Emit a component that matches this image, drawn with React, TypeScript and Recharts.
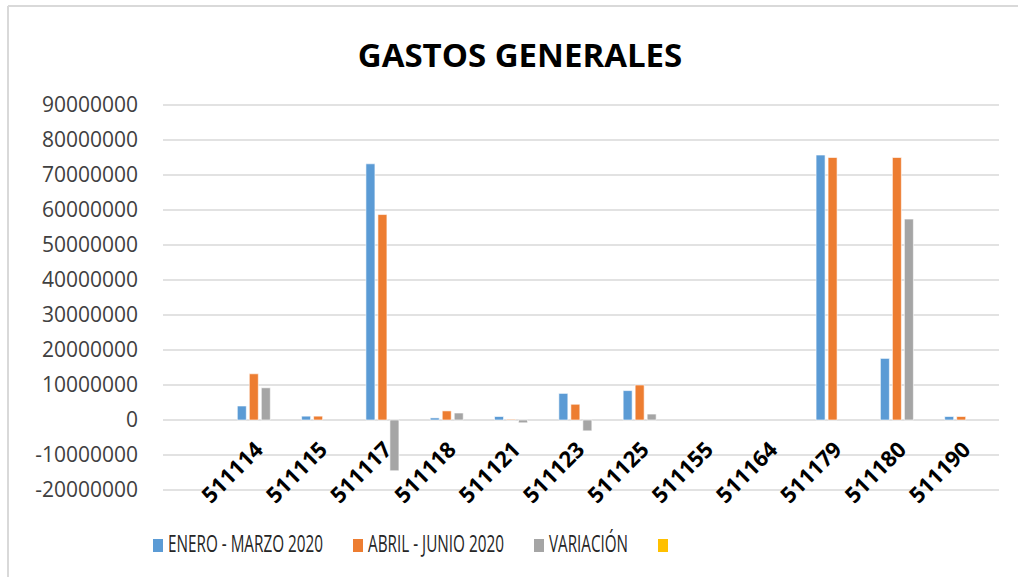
import React, { useLayoutEffect, useRef, useState } from "react";
import { BarChart, Bar, XAxis, YAxis, CartesianGrid, Legend } from "recharts";

const categories = ["", "511114", "511115", "511117", "511118", "511121", "511123", "511125", "511155", "511164", "511179", "511180", "511190"];
const eneroMarzo = [null, 4000000, 1100000, 73200000, 600000, 1000000, 7600000, 8400000, 0, 0, 75700000, 17600000, 1000000];
const abrilJunio = [null, 13200000, 1100000, 58700000, 2600000, 200000, 4500000, 10000000, 0, 0, 75000000, 75000000, 1000000];
const variacion = [null, 9200000, 0, -14500000, 2000000, -800000, -3100000, 1700000, 0, 0, 0, 57400000, 0];
const serieVacia = [null, null, null, null, null, null, null, null, null, null, null, null, null];
const yTicks = [-20000000, -10000000, 0, 10000000, 20000000, 30000000, 40000000, 50000000, 60000000, 70000000, 80000000, 90000000];
const seriesNames = ["ENERO - MARZO 2020", "ABRIL - JUNIO 2020", "VARIACIÓN", ""];
const seriesColors = ["#5B9BD5", "#ED7D31", "#A5A5A5", "#FFC000"];
const legendTextWidths = [155, 136, 79, 0];

const data = categories.map((c, i) => ({
  cat: c,
  s0: eneroMarzo[i],
  s1: abrilJunio[i],
  s2: variacion[i],
  s3: serieVacia[i],
}));

const W = 1018;
const H = 577;
const M = { top: 105, right: 19, left: 0, bottom: 47 };
const XH = 40;
const Y_MIN = yTicks[0];
const Y_MAX = yTicks[yTicks.length - 1];
const PLOT_H = H - M.top - M.bottom - XH;
const ZERO_FROM_BOTTOM = (0 - Y_MIN) / (Y_MAX - Y_MIN) * PLOT_H;

const FONT = "'Open Sans', sans-serif";

const CatTick = (props: any) => {
  const { x, y, payload } = props;
  const zy = y - ZERO_FROM_BOTTOM;
  return (
    <text
      x={x + 5}
      y={zy + 31}
      transform={`rotate(-45, ${x + 5}, ${zy + 31})`}
      textAnchor="end"
      fontFamily={FONT}
      fontWeight={700}
      fontSize={22}
      fill="#000"
    >
      {payload.value}
    </text>
  );
};

const FitText = ({ x, y, width, children }: any) => {
  const ref = useRef<SVGTextElement>(null);
  const [sx, setSx] = useState(0.7);
  useLayoutEffect(() => {
    if (ref.current) {
      const w = ref.current.getComputedTextLength();
      if (w > 0) setSx(width / w);
    }
  }, [width]);
  return (
    <text
      ref={ref}
      x={0}
      y={0}
      transform={`translate(${x}, ${y}) scale(${sx}, 1)`}
      fontFamily={FONT}
      fontSize={23}
      fill="#262626"
    >
      {children}
    </text>
  );
};

const LegendContent = () => {
  let cx = 153;
  const items: any[] = [];
  seriesNames.forEach((n, i) => {
    items.push(
      <g key={i}>
        <rect x={cx} y={539} width={10} height={13} fill={seriesColors[i]} />
        {n ? <FitText x={cx + 15} y={552} width={legendTextWidths[i]}>{n}</FitText> : null}
      </g>
    );
    cx += 15 + legendTextWidths[i] + 30;
  });
  return (
    <svg width={W} height={H} style={{ position: "absolute", left: 0, top: 0, overflow: "visible" }}>
      {items}
    </svg>
  );
};

export default function App() {
  return (
    <div style={{ position: "absolute", left: 0, top: 0, width: W, height: H, background: "#fff" }}>
      <BarChart width={W} height={H} data={data} margin={M} barSize={9} barGap={3}>
        <CartesianGrid vertical={false} stroke="#d9d9d9" strokeWidth={1.6} />
        <XAxis
          dataKey="cat"
          height={XH}
          axisLine={false}
          tickLine={false}
          tickSize={0}
          tickMargin={0}
          interval={0}
          tick={<CatTick />}
        />
        <YAxis
          width={163}
          domain={[Y_MIN, Y_MAX]}
          ticks={yTicks}
          interval={0}
          axisLine={false}
          tickLine={false}
          tickSize={0}
          tickMargin={25}
          tick={{ fontFamily: FONT, fontSize: 21, fill: "#404040" }}
        />
        <Legend
          verticalAlign="top"
          content={<LegendContent />}
          wrapperStyle={{ position: "absolute", left: 0, top: 0, width: 0, height: 0, overflow: "visible" }}
        />
        <Bar dataKey="s0" name={seriesNames[0]} fill={seriesColors[0]} stroke="#fff" strokeWidth={0.6} isAnimationActive={false} />
        <Bar dataKey="s1" name={seriesNames[1]} fill={seriesColors[1]} stroke="#fff" strokeWidth={0.6} isAnimationActive={false} />
        <Bar dataKey="s2" name={seriesNames[2]} fill={seriesColors[2]} stroke="#fff" strokeWidth={0.6} isAnimationActive={false} />
        <Bar dataKey="s3" name={seriesNames[3]} fill={seriesColors[3]} isAnimationActive={false} />
      </BarChart>
      <svg width={W} height={H} style={{ position: "absolute", left: 0, top: 0, pointerEvents: "none" }}>
        <line x1={8} y1={6} x2={W} y2={6} stroke="#d9d9d9" strokeWidth={2} />
        <line x1={8} y1={6} x2={8} y2={H} stroke="#d9d9d9" strokeWidth={2} />
        <text x={520} y={67} textAnchor="middle" fontFamily={FONT} fontWeight={700} fontSize={33} fill="#000">
          GASTOS GENERALES
        </text>
      </svg>
    </div>
  );
}
